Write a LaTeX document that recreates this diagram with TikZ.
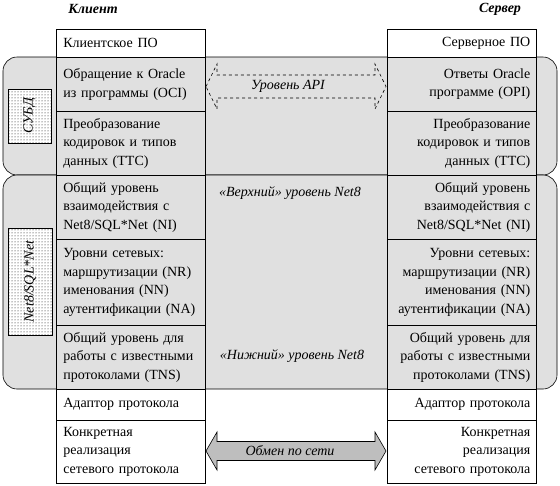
\documentclass[tikz,border=0pt]{standalone}
\usepackage{fontspec}
\setmainfont{Liberation Serif}
\usetikzlibrary{patterns}
\definecolor{bggray}{HTML}{E0E0E0}
\definecolor{arrgray}{HTML}{BEBEBE}
\tikzset{
  region/.style={draw=black, line width=0.6pt, fill=bggray, rounded corners=14pt},
  lbox/.style={draw=black, line width=0.7pt, anchor=north west, minimum height=#1,
    inner xsep=7pt, inner ysep=0pt, text width=135pt, align=left,
    font=\fontsize{14}{18.5}\selectfont},
  rbox/.style={draw=black, line width=0.7pt, anchor=north west, minimum height=#1,
    inner xsep=6pt, inner ysep=0pt, text width=137pt, align=right,
    font=\fontsize{14}{18.5}\selectfont},
  sidebox/.style={draw=black, line width=0.6pt, fill=white, postaction={pattern=dots},
    rotate=90, inner sep=0pt, font=\itshape\fontsize{14}{16}\selectfont},
  lbl/.style={font=\itshape\fontsize{14}{16}\selectfont, inner sep=1pt},
  head/.style={font=\bfseries\itshape\fontsize{14}{16}\selectfont, inner sep=1pt},
}
\begin{document}
\begin{tikzpicture}[x=1pt,y=-1pt]
\useasboundingbox (0,0) rectangle (560,485);
% background regions
\draw[region] (3,57) rectangle (557,175);
\draw[region] (3,175) rectangle (557,389);
% headers
\node[head] (hc) at (93,9) {Клиент};
\node[head] (hs) at (500,9) {Сервер};
% left column
\node[lbox=28pt, fill=white] (l1) at (56,29) {Клиентское ПО};
\node[lbox=54pt, fill=bggray] (l2) at (56,57) {Обращение к Oracle\\из программы (OCI)};
\node[lbox=64pt, fill=bggray] (l3) at (56,111) {Преобразование\\кодировок и типов\\данных (TTC)};
\node[lbox=64pt, fill=bggray] (l4) at (56,175) {Общий уровень\\взаимодействия с\\Net8/SQL*Net (NI)};
\node[lbox=86pt, fill=bggray] (l5) at (56,239) {Уровни сетевых:\\маршрутизации (NR)\\именования (NN)\\аутентификации (NA)};
\node[lbox=64pt, fill=bggray] (l6) at (56,325) {Общий уровень для\\работы с известными\\протоколами (TNS)};
\node[lbox=31pt, fill=white] (l7) at (56,389) {Адаптор протокола};
\node[lbox=63pt, fill=white] (l8) at (56,420) {Конкретная\\реализация\\сетевого протокола};
% right column
\node[rbox=28pt, fill=white] (r1) at (387,29) {Серверное ПО};
\node[rbox=54pt, fill=bggray] (r2) at (387,57) {Ответы Oracle\\программе (OPI)};
\node[rbox=64pt, fill=bggray] (r3) at (387,111) {Преобразование\\кодировок и типов\\данных (TTC)};
\node[rbox=64pt, fill=bggray] (r4) at (387,175) {Общий уровень\\взаимодействия с\\Net8/SQL*Net (NI)};
\node[rbox=86pt, fill=bggray] (r5) at (387,239) {Уровни сетевых:\\маршрутизации (NR)\\именования (NN)\\аутентификации (NA)};
\node[rbox=64pt, fill=bggray] (r6) at (387,325) {Общий уровень для\\работы с известными\\протоколами (TNS)};
\node[rbox=31pt, fill=white] (r7) at (387,389) {Адаптор протокола};
\node[rbox=63pt, fill=white] (r8) at (387,420) {Конкретная\\реализация\\сетевого протокола};
% side labels
\node[sidebox, minimum width=54pt, minimum height=43pt] (subd) at (29.5,116) {СУБД};
\node[sidebox, minimum width=107pt, minimum height=44pt] (net) at (30,281.5) {Net8/SQL*Net};
% API arrow
\draw[dashed, line width=0.6pt, fill=bggray] (206,86.5) -- (217,64) -- (217,75) -- (375,75) -- (375,64)
  -- (386,86.5) -- (375,109) -- (375,98) -- (217,98) -- (217,109) -- cycle;
\node[lbl] (api) at (288,86.5) {Уровень API};
% network arrow
\draw[line width=0.6pt, fill=arrgray] (206,451) -- (217,432) -- (217,441.5) -- (375,441.5) -- (375,432)
  -- (386,451) -- (375,470) -- (375,460.5) -- (217,460.5) -- (217,470) -- cycle;
\node[lbl] (net8x) at (290,451) {Обмен по сети};
% level labels
\node[lbl] (up) at (290,193) {«Верхний» уровень Net8};
\node[lbl] (low) at (292,356) {«Нижний» уровень Net8};
\end{tikzpicture}
\end{document}
